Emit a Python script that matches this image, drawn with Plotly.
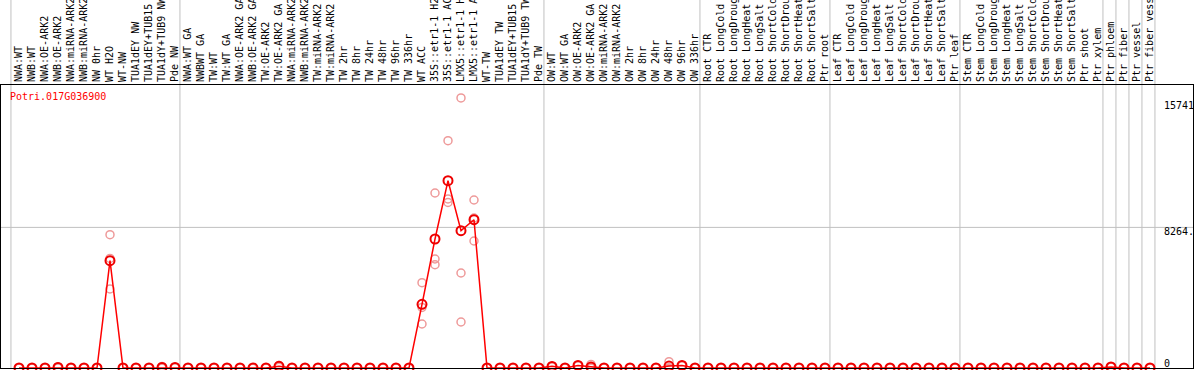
import plotly.graph_objects as go

gene_id = "Potri.017G036900"

categories = [
    "NWA:WT", "NWB:WT", "NWA:OE-ARK2", "NWB:OE-ARK2", "NWA:miRNA-ARK2", "NWB:miRNA-ARK2",
    "NW 0hr", "WT H2O", "WT-NW", "TUA1dEY NW", "TUA1dEY+TUB15", "TUA1dY+TUB9 NW", "Pde NW",
    "NWA:WT GA", "NWBWT GA", "TW:WT", "TW:WT GA", "NWA:OE-ARK2 GA", "NWB:OE-ARK2 GA",
    "TW:OE-ARK2", "TW:OE-ARK2 GA", "NWA:miRNA-ARK2", "NWB:miRNA-ARK2", "TW:miRNA-ARK2",
    "TW:miRNA-ARK2", "TW 2hr", "TW 8hr", "TW 24hr", "TW 48hr", "TW 96hr", "TW 336hr",
    "WT ACC", "35S::etr1-1 H2O", "35S::etr1-1 ACC", "LMX5::etr1-1 H2O", "LMX5::etr1-1 ACC",
    "WT-TW", "TUA1dEY TW", "TUA1dEY+TUB15", "TUA1dY+TUB9 TW", "Pde TW",
    "OW:WT", "OW:WT GA", "OW:OE-ARK2", "OW:OE-ARK2 GA", "OW:miRNA-ARK2", "OW:miRNA-ARK2",
    "OW 2hr", "OW 8hr", "OW 24hr", "OW 48hr", "OW 96hr", "OW 336hr",
    "Root CTR", "Root LongCold", "Root LongDrought", "Root LongHeat", "Root LongSalt",
    "Root ShortCold", "Root ShortDrought", "Root ShortHeat", "Root ShortSalt", "Ptr root",
    "Leaf CTR", "Leaf LongCold", "Leaf LongDrought", "Leaf LongHeat", "Leaf LongSalt",
    "Leaf ShortCold", "Leaf ShortDrought", "Leaf ShortHeat", "Leaf ShortSalt", "Ptr leaf",
    "Stem CTR", "Stem LongCold", "Stem LongDrought", "Stem LongHeat", "Stem LongSalt",
    "Stem ShortCold", "Stem ShortDrought", "Stem ShortHeat", "Stem ShortSalt", "Ptr shoot",
    "Ptr xylem", "Ptr phloem", "Ptr fiber", "Ptr vessel", "Ptr fiber vessel",
]

# mean expression per sample (red line)
mean_values = [
    0, 0, 0, 35, 0, 0, 0, 6310, 0, 0, 0, 30, 30,
    0, 0, 0, 0, 0, 0, 0, 100, 0, 0, 0, 0, 0, 0, 0, 0, 0, 0,
    3740, 7582, 11009, 8070, 8716, 0, 0, 0, 0, 0,
    95, 0, 150, 60, 0, 0, 0, 0, 0, 115, 150, 0,
    0, 0, 0, 0, 0, 0, 0, 0, 0, 0,
    0, 0, 0, 0, 0, 0, 0, 0, 0, 0,
    0, 0, 0, 0, 0, 0, 0, 0, 0, 0,
    0, 60, 0, 0, 0,
]

# individual replicates (light circles)
rep_a = [
    0, 0, 0, 60, 0, 0, 0, 7835, 0, 0, 0, 90, 30,
    0, 0, 0, 0, 0, 0, 0, 150, 0, 0, 0, 0, 0, 0, 0, 0, 0, 0,
    5013, 10286, 13360, 15870, 9874, 0, 0, 0, 0, 0,
    95, 0, 150, 210, 0, 0, 0, 0, 0, 370, 150, 0,
    0, 0, 0, 0, 0, 0, 0, 0, 0, 0,
    0, 0, 0, 0, 0, 0, 0, 0, 0, 0,
    0, 0, 0, 0, 0, 0, 0, 0, 0, 0,
    0, 60, 0, 0, 0,
]
rep_b = [
    0, 0, 0, 45, 0, 0, 0, 6440, 0, 0, 0, 0, 30,
    0, 0, 0, 0, 0, 0, 0, 100, 0, 0, 0, 0, 0, 0, 0, 0, 0, 0,
    3562, 6406, 9933, 5584, 7464, 0, 0, 0, 0, 0,
    95, 0, 150, 0, 0, 0, 0, 0, 0, 0, 150, 0,
    0, 0, 0, 0, 0, 0, 0, 0, 0, 0,
    0, 0, 0, 0, 0, 0, 0, 0, 0, 0,
    0, 0, 0, 0, 0, 0, 0, 0, 0, 0,
    0, 60, 0, 0, 0,
]
rep_c = [
    0, 0, 0, 0, 0, 0, 0, 4650, 0, 0, 0, 0, 30,
    0, 0, 0, 0, 0, 0, 0, 50, 0, 0, 0, 0, 0, 0, 0, 0, 0, 0,
    2586, 6071, 9733, 2704, 8810, 0, 0, 0, 0, 0,
    95, 0, 150, 0, 0, 0, 0, 0, 0, 0, 150, 0,
    0, 0, 0, 0, 0, 0, 0, 0, 0, 0,
    0, 0, 0, 0, 0, 0, 0, 0, 0, 0,
    0, 0, 0, 0, 0, 0, 0, 0, 0, 0,
    0, 60, 0, 0, 0,
]

separators_after = [-1, 12, 40, 52, 62, 72, 83, 84, 85, 86, 87]
grid_value = 8264
y_label_values = [15741, 8264, 0]
y_label_text = ["15741", "8264.", "0"]

FONT = "DejaVu Sans Mono"
x_idx = list(range(len(categories)))

fig = go.Figure()
fig.add_trace(go.Scatter(
    x=x_idx * 3, y=rep_a + rep_b + rep_c, mode="markers",
    marker=dict(symbol="circle-open", size=8, color="#ee9a9a", line=dict(width=1.5)),
    cliponaxis=False, showlegend=False, hoverinfo="skip",
))
fig.add_trace(go.Scatter(
    x=x_idx, y=mean_values, mode="lines+markers",
    line=dict(color="#ff0000", width=1.5),
    marker=dict(symbol="circle-open", size=9, color="#ee0000", line=dict(width=2)),
    cliponaxis=False, showlegend=False,
))

W, H = 1194, 370
ml, mr, mt, mb = 1, 1, 85, 2
plot_w = W - ml - mr
plot_h = H - mt - mb
px_per_cat = 13.0
first_px = 19.0
x0 = -(first_px - ml) / px_per_cat
x1 = x0 + plot_w / px_per_cat
y_top = 16633

shapes = []
for s in separators_after:
    shapes.append(dict(type="line", xref="x", yref="paper", x0=s + 0.38, x1=s + 0.38,
                       y0=0, y1=1 + (mt + 2) / plot_h, line=dict(color="#c0c0c0", width=1),
                       layer="below"))
shapes.append(dict(type="line", xref="paper", yref="y", x0=0, x1=1, y0=grid_value, y1=grid_value,
                   line=dict(color="#c0c0c0", width=1), layer="below"))

annotations = [dict(
    text=gene_id, xref="paper", yref="paper", x=(9 - ml) / plot_w, y=(H - mb - 90) / plot_h,
    xanchor="left", yanchor="top", showarrow=False, borderpad=0,
    font=dict(family=FONT, size=10, color="#ff0000"),
)]
for v, t, sh in zip(y_label_values, y_label_text, [-5, -4.5, 5]):
    annotations.append(dict(
        text=t, xref="paper", yref="y", x=(1163 - ml) / plot_w, y=v,
        xanchor="left", yanchor="middle", yshift=sh, showarrow=False, borderpad=0,
        font=dict(family=FONT, size=10, color="#000000"),
    ))

fig.update_layout(
    width=W, height=H,
    margin=dict(l=ml, r=mr, t=mt, b=mb, pad=0, autoexpand=False),
    paper_bgcolor="white", plot_bgcolor="rgba(0,0,0,0)",
    shapes=shapes, annotations=annotations,
    xaxis=dict(
        range=[x0, x1], side="top", tickmode="array", tickvals=x_idx, ticktext=categories,
        tickangle=-90, ticks="", showgrid=False, zeroline=False, automargin=False,
        showline=True, linecolor="black", linewidth=1, mirror=True,
        tickfont=dict(family=FONT, size=10, color="black"),
    ),
    yaxis=dict(
        range=[0, y_top], showticklabels=False, ticks="", showgrid=False, zeroline=False,
        automargin=False,
        showline=True, linecolor="black", linewidth=1, mirror=True,
    ),
)

fig.write_html(
    "out.html",
    config={"displayModeBar": False},
    post_script="document.body.style.margin='0px';document.body.style.overflow='hidden';",
)
